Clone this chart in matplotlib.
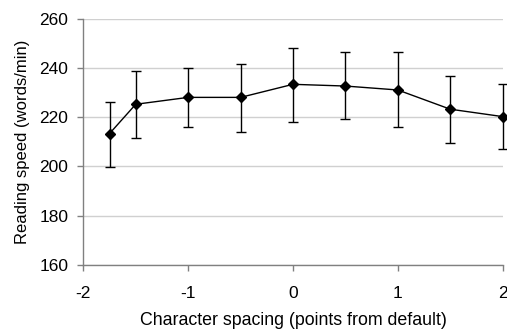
import matplotlib
matplotlib.use("Agg")
import matplotlib.pyplot as plt

plt.rcParams['font.family'] = ['Liberation Sans', 'DejaVu Sans']

spacing = [-1.75, -1.5, -1.0, -0.5, 0.0, 0.5, 1.0, 1.5, 2.0]
speed = [213.3, 225.2, 228.0, 228.0, 233.3, 232.6, 231.0, 223.2, 220.2]
err_low = [13.4, 13.7, 11.9, 14.2, 15.4, 13.5, 14.9, 13.6, 13.0]
err_high = [12.9, 13.5, 11.8, 13.7, 14.9, 13.8, 15.4, 13.6, 13.2]
xticks = [-2, -1, 0, 1, 2]
yticks = [160, 180, 200, 220, 240, 260]

fig = plt.figure(figsize=(5.07, 3.35), dpi=100)
ax = fig.add_axes([83.3/507, (335-265)/335, (502.7-83.3)/507, (265-18.5)/335])

ax.errorbar(spacing, speed, yerr=[err_low, err_high], color='black', lw=1.0,
            marker='D', markersize=5.5, capsize=3.6, elinewidth=1.0, capthick=1.0,
            zorder=3, clip_on=False)

ax.set_xlim(-2, 2)
ax.set_ylim(160, 260)
ax.set_xticks(xticks)
ax.set_xticklabels([str(t) for t in xticks])
ax.set_yticks(yticks)
ax.grid(axis='y', color='#d0d0d0', lw=1.0)
ax.set_axisbelow(True)
for s in ['top', 'right']:
    ax.spines[s].set_visible(False)
for s in ['left', 'bottom']:
    ax.spines[s].set_color('#808080')
    ax.spines[s].set_linewidth(1.0)
ax.tick_params(axis='both', colors='#808080', labelcolor='black', labelsize=12.5, length=4.3, width=1)
ax.tick_params(axis='x', pad=10.5)
ax.tick_params(axis='y', pad=6.5)
ax.set_xlabel('Character spacing (points from default)', fontsize=12.8, labelpad=8)
ax.set_ylabel('Reading speed (words/min)', fontsize=12, labelpad=6.5)

fig.savefig('out.png', dpi=100)
